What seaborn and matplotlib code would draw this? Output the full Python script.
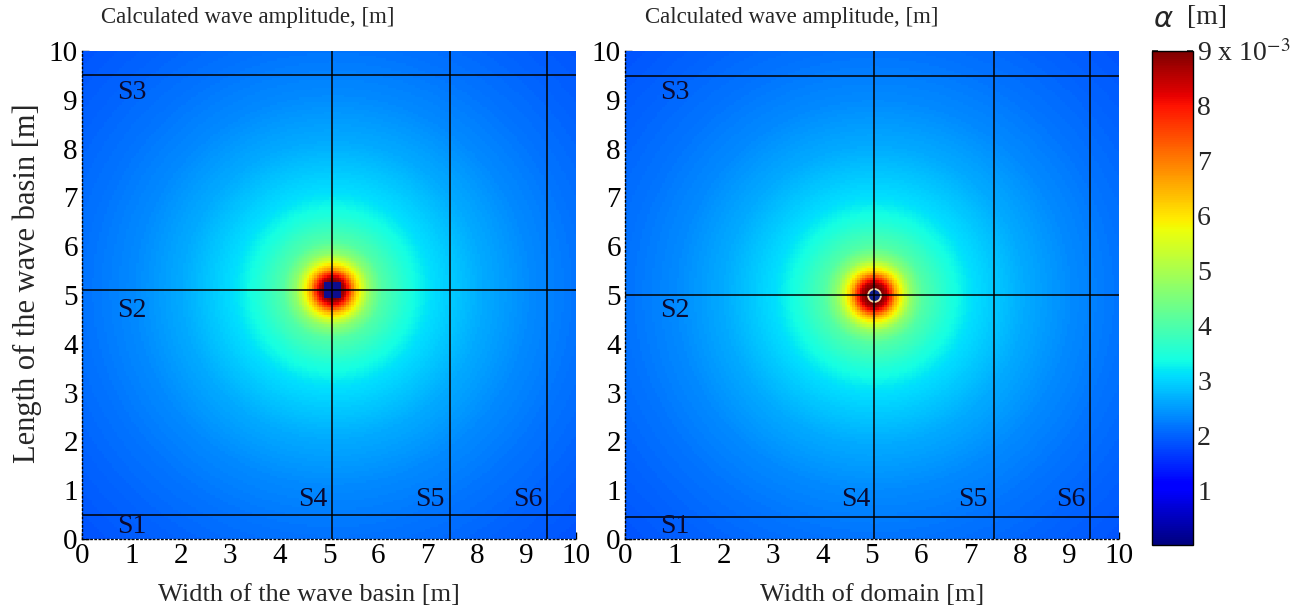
import numpy as np
import matplotlib
matplotlib.use("Agg")
import matplotlib.pyplot as plt
import seaborn as sns

# ---------------- data ----------------
# radial amplitude profile around the source (distance [m] -> amplitude [1e-3 m])
radius = [0.0, 0.17, 0.25, 0.35, 0.45, 0.6, 0.75, 1.0, 1.5, 2.0, 3.0, 4.0, 5.0, 6.0, 7.2]
amplitude = [9.0, 9.0, 8.6, 7.6, 6.5, 5.5, 4.7, 4.05, 3.5, 3.1, 2.65, 2.35, 2.15, 2.0, 1.85]

src_left = (5.07, 5.10)
src_right = (5.04, 5.00)

vlines_left = [5.07, 7.45, 9.42]
hlines_left = [0.50, 5.10, 9.50]
vlines_right = [5.04, 7.46, 9.42]
hlines_right = [0.46, 5.00, 9.48]

section_names = ["S1", "S2", "S3", "S4", "S5", "S6"]
section_x = [1.0, 1.0, 1.0, 4.68, 7.05, 9.02]
section_y = [0.25, 4.69, 9.14, 0.80, 0.80, 0.80]

axis_ticks = list(range(0, 11))
cbar_ticks = [1, 2, 3, 4, 5, 6, 7, 8, 9]
cbar_labels = ["1", "2", "3", "4", "5", "6", "7", "8", "9 x 10$^{-3}$"]

titles = ["Calculated wave amplitude, [m]", "Calculated wave amplitude, [m]"]
xlabels = ["Width of the wave basin [m]", "Width of domain [m]"]
ylabel = "Length of the wave basin [m]"

# ---------------- figure ----------------
sns.set_theme(style="white")
plt.rcParams["font.family"] = ["Liberation Serif", "DejaVu Serif"]
plt.rcParams["mathtext.fontset"] = "stix"

W, H = 1299, 616
fig = plt.figure(figsize=(W / 100, H / 100), dpi=100)

cell = 0.05
n = int(round(10 / cell))
centers = (np.arange(n) + 0.5) * cell
X, Y = np.meshgrid(centers, centers)


def u(v):
    return np.asarray(v, dtype=float) / cell


def field(src):
    r = np.hypot(X - src[0], Y - src[1])
    return np.interp(r, radius, amplitude) * 1e-3


ax_l = fig.add_axes([82 / W, 1 - 539 / H, 494 / W, 488 / H])
ax_r = fig.add_axes([625 / W, 1 - 539 / H, 494 / W, 488 / H])
cax = fig.add_axes([1152 / W, 1 - 545 / H, 41 / W, 494 / H])

panels = [
    (ax_l, src_left, vlines_left, hlines_left, "s", 0.336, 0.46),
    (ax_r, src_right, vlines_right, hlines_right, "o", 0.338, 0.50),
]

for i, (ax, src, vls, hls, mk, tx, lx) in enumerate(panels):
    Z = field(src)
    sns.heatmap(Z, ax=ax, cmap="jet", vmin=0, vmax=9e-3,
                cbar=(i == 0), cbar_ax=cax if i == 0 else None,
                xticklabels=False, yticklabels=False, rasterized=True)
    ax.set_xlim(0, n)
    ax.set_ylim(0, n)
    # source marker
    if mk == "s":
        ax.scatter([u(src[0])], [u(src[1])], marker="s", s=140,
                   color="#0d0d8c", edgecolors="none", zorder=3)
    else:
        ax.scatter([u(src[0])], [u(src[1])], marker="o", s=85,
                   color="#102090", edgecolors="#f3d9a8", linewidths=1.3, zorder=3)
    for xv in vls:
        ax.axvline(u(xv), color="black", lw=1.1, zorder=4)
    for yv in hls:
        ax.axhline(u(yv), color="black", lw=1.1, zorder=4)
    for name, sx, sy in zip(section_names, section_x, section_y):
        ax.text(u(sx), u(sy), name, ha="center", va="center", fontsize=20,
                color="#0a0a30", zorder=5)
    ax.set_xticks(u(axis_ticks))
    ax.set_xticklabels([str(t) for t in axis_ticks], fontsize=21)
    ax.set_yticks(u(axis_ticks))
    ax.set_yticklabels([str(t) for t in axis_ticks], fontsize=21)
    ax.set_xticks(u(np.arange(0, 10.01, 0.2)), minor=True)
    ax.set_yticks(u(np.arange(0, 10.01, 0.2)), minor=True)
    ax.tick_params(axis="both", which="major", direction="in", length=5, width=1,
                   left=True, bottom=True, top=False, right=False, pad=3,
                   colors="black")
    ax.tick_params(axis="both", which="minor", direction="in", length=2, width=0.8,
                   left=True, bottom=True, top=False, right=False)
    for sp in ["top", "right"]:
        ax.spines[sp].set_visible(False)
    for sp in ["left", "bottom"]:
        ax.spines[sp].set_visible(True)
        ax.spines[sp].set_color("black")
        ax.spines[sp].set_linewidth(1.0)
        ax.spines[sp].set_linestyle((0, (1, 2)))
    ax.text(tx, 1 + 33 / 488, titles[i], transform=ax.transAxes, fontsize=16.5,
            ha="center", va="center")
    ax.set_xlabel(xlabels[i], fontsize=19)
    ax.xaxis.set_label_coords(lx, -0.093)

ax_l.set_ylabel(ylabel, fontsize=22)
ax_l.yaxis.set_label_coords(-0.08, 0.525)

# colorbar styling
cb = ax_l.collections[0].colorbar
cb.set_ticks([t * 1e-3 for t in cbar_ticks])
cb.set_ticklabels(cbar_labels)
cax.tick_params(labelsize=20, direction="in", length=4, left=True, right=True,
                pad=3)
cb.outline.set_visible(True)
cb.outline.set_edgecolor("black")
cb.outline.set_linewidth(1.0)

fig.text(1163 / W, 1 - 19 / H, "α", fontsize=21, style="italic",
         family=["DejaVu Sans"], ha="center", va="center")
fig.text(1207 / W, 1 - 18 / H, "[m]", fontsize=20, ha="center", va="center")

fig.savefig("out.png", dpi=100)
